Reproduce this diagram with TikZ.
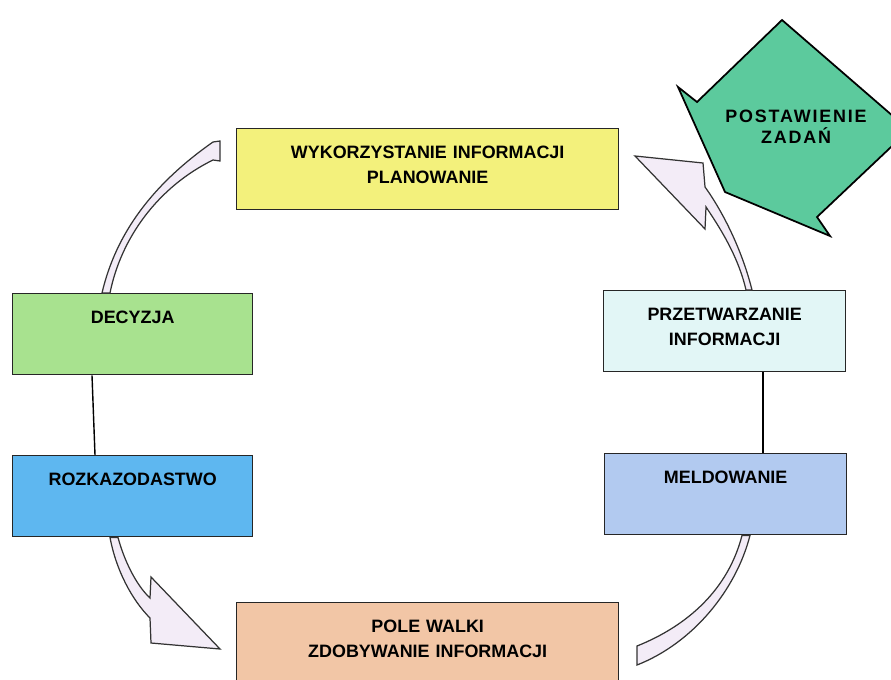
\documentclass[tikz,border=0pt]{standalone}
\usepackage{fontspec}
\setmainfont{Liberation Sans}
\usetikzlibrary{positioning}
\usetikzlibrary{calc}

\definecolor{planyellow}{RGB}{243,241,124}
\definecolor{decgreen}{RGB}{168,226,143}
\definecolor{ordblue}{RGB}{94,183,240}
\definecolor{procyan}{RGB}{226,246,246}
\definecolor{repblue}{RGB}{178,202,240}
\definecolor{fieldpeach}{RGB}{242,198,166}
\definecolor{taskgreen}{RGB}{92,202,157}
\definecolor{bandlilac}{RGB}{243,236,247}

\begin{document}
\begin{tikzpicture}[
    x=0.02cm, y=-0.02cm,
% Box style
    block/.style={rectangle,draw=black!85,line width=0.8pt,anchor=north west,
		inner sep=0pt,text width=4.8cm,text height=0.6cm,text depth=1.02cm,
		align=center,font={\bfseries\fontsize{10.2pt}{14.2pt}\selectfont}},
    blockwide/.style={block,text width=7.64cm},
% Hollow arrow style
    band/.style={draw=black!80,line width=0.7pt,fill=bandlilac,line join=miter},
    taskarrow/.style={draw=black,line width=1pt,fill=taskgreen,line join=miter},
    font={\fontsize{10.2pt}{14.2pt}\selectfont}
    ]

  \useasboundingbox (0,0) rectangle (891,679);
  \clip (0,0) rectangle (891,679);

  \node (wyk) [blockwide,fill=planyellow] at (236,128) {WYKORZYSTANIE INFORMACJI\\PLANOWANIE};
  \node (dec) [block,fill=decgreen] at (12,293) {DECYZJA};
  \node (rozk) [block,fill=ordblue] at (12,455) {ROZKAZODASTWO};
  \node (prz) [block,text width=4.84cm,fill=procyan] at (603,290) {PRZETWARZANIE\\INFORMACJI};
  \node (meld) [block,text width=4.84cm,fill=repblue] at (604,453) {MELDOWANIE};
  \node (pole) [blockwide,fill=fieldpeach] at (236,602) {POLE WALKI\\ZDOBYWANIE INFORMACJI};

  % task arrow
  \draw[taskarrow] (909,130) -- (817,217) -- (830,236) -- (725,192) -- (678,87) -- (697,102) -- (782,20) -- cycle;
  \node (task) [align=center,font={\bfseries\fontsize{10.2pt}{11.9pt}\selectfont\addfontfeatures{LetterSpace=10}}] at (796,127) {POSTAWIENIE\\ZADAŃ};

  \draw[line width=0.8pt] ($(dec.south west)+(80,0)$) -- ($(rozk.north west)+(83,0)$);
  \draw[line width=0.8pt] ($(prz.south west)+(160,0)$) -- ($(meld.north west)+(159,0)$);

  % hollow arrows
  \draw[band] ($(dec.north west)+(90,0)$) .. controls (116,233) and (153,184) .. (213,142)
    -- (220,141) -- (220,161) -- (213,160) .. controls (158,187) and (121,238) .. ($(dec.north west)+(98,0)$) -- cycle;
  \draw[band] ($(prz.north west)+(143,0)$) .. controls (738,255) and (718,225) .. (706,207)
    -- (705,229) -- (635,156) -- (703,163) -- (705,187) .. controls (723,212) and (742,250) .. ($(prz.north west)+(149,0)$) -- cycle;
  \draw[band] ($(rozk.south west)+(98,0)$) .. controls (116,570) and (132,600) .. (150,618)
    -- (151,643) -- (220,649) -- (151,577) -- (150,598) .. controls (136,585) and (124,560) .. ($(rozk.south west)+(106,0)$) -- cycle;
  \draw[band] ($(meld.south west)+(138,0)$) .. controls (728,590) and (687,626) .. (637,646)
    -- (637,665) .. controls (693,643) and (736,590) .. ($(meld.south west)+(146,0)$) -- cycle;

\end{tikzpicture}
\end{document}
